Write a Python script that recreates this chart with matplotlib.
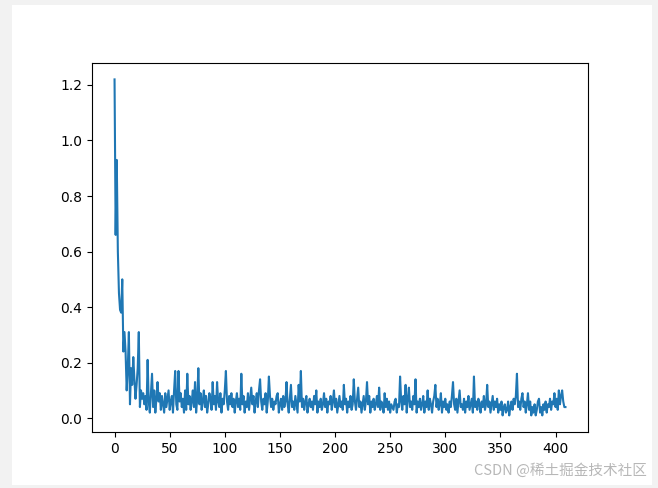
import matplotlib
matplotlib.use("Agg")
import matplotlib.pyplot as plt
from matplotlib.patches import Rectangle

# loss values, one per step (410 steps)
loss = [
    1.22, 0.66, 0.93, 0.60, 0.45, 0.39, 0.38, 0.50, 0.24, 0.31,
    0.24, 0.10, 0.18, 0.31, 0.05, 0.18, 0.12, 0.22, 0.14, 0.07,
    0.12, 0.18, 0.31, 0.04, 0.10, 0.07, 0.09, 0.05, 0.08, 0.03,
    0.21, 0.06, 0.02, 0.09, 0.16, 0.04, 0.10, 0.02, 0.07, 0.13,
    0.06, 0.09, 0.03, 0.08, 0.05, 0.02, 0.09, 0.04, 0.07, 0.10,
    0.03, 0.06, 0.08, 0.02, 0.10, 0.17, 0.05, 0.03, 0.17, 0.06,
    0.09, 0.04, 0.07, 0.02, 0.10, 0.03, 0.16, 0.05, 0.08, 0.03,
    0.06, 0.10, 0.04, 0.13, 0.02, 0.07, 0.18, 0.05, 0.09, 0.03,
    0.06, 0.10, 0.04, 0.08, 0.02, 0.05, 0.09, 0.07, 0.03, 0.13,
    0.05, 0.08, 0.03, 0.13, 0.06, 0.04, 0.09, 0.02, 0.07, 0.05,
    0.10, 0.17, 0.06, 0.03, 0.08, 0.05, 0.09, 0.04, 0.07, 0.02,
    0.06, 0.09, 0.04, 0.07, 0.03, 0.16, 0.05, 0.08, 0.02, 0.06,
    0.04, 0.09, 0.03, 0.07, 0.11, 0.05, 0.08, 0.02, 0.06, 0.09,
    0.04, 0.10, 0.14, 0.06, 0.03, 0.07, 0.05, 0.09, 0.02, 0.06,
    0.15, 0.08, 0.04, 0.07, 0.03, 0.06, 0.05, 0.08, 0.09, 0.02,
    0.05, 0.07, 0.03, 0.08, 0.04, 0.06, 0.13, 0.05, 0.02, 0.07,
    0.12, 0.04, 0.06, 0.03, 0.08, 0.05, 0.02, 0.12, 0.06, 0.17,
    0.04, 0.07, 0.03, 0.06, 0.08, 0.02, 0.05, 0.07, 0.04, 0.06,
    0.03, 0.08, 0.05, 0.10, 0.02, 0.06, 0.04, 0.07, 0.03, 0.05,
    0.09, 0.04, 0.07, 0.02, 0.06, 0.05, 0.08, 0.03, 0.06, 0.10,
    0.04, 0.07, 0.02, 0.05, 0.08, 0.04, 0.06, 0.03, 0.12, 0.05,
    0.07, 0.02, 0.06, 0.04, 0.08, 0.03, 0.05, 0.14, 0.06, 0.03,
    0.07, 0.11, 0.04, 0.06, 0.02, 0.05, 0.08, 0.03, 0.06, 0.13,
    0.05, 0.08, 0.02, 0.06, 0.04, 0.07, 0.03, 0.05, 0.08, 0.04,
    0.11, 0.03, 0.06, 0.05, 0.02, 0.09, 0.04, 0.07, 0.03, 0.06,
    0.02, 0.05, 0.04, 0.03, 0.06, 0.07, 0.02, 0.05, 0.04, 0.15,
    0.06, 0.03, 0.08, 0.05, 0.12, 0.02, 0.07, 0.11, 0.04, 0.06,
    0.03, 0.08, 0.05, 0.14, 0.02, 0.06, 0.04, 0.07, 0.03, 0.05,
    0.08, 0.02, 0.06, 0.04, 0.10, 0.03, 0.07, 0.05, 0.02, 0.06,
    0.08, 0.12, 0.04, 0.07, 0.03, 0.05, 0.09, 0.02, 0.06, 0.04,
    0.07, 0.03, 0.05, 0.02, 0.06, 0.04, 0.08, 0.13, 0.05, 0.03,
    0.07, 0.02, 0.06, 0.10, 0.04, 0.05, 0.03, 0.07, 0.02, 0.06,
    0.04, 0.08, 0.03, 0.05, 0.07, 0.02, 0.15, 0.04, 0.06, 0.03,
    0.07, 0.05, 0.02, 0.06, 0.04, 0.08, 0.03, 0.05, 0.12, 0.04,
    0.06, 0.02, 0.05, 0.08, 0.03, 0.06, 0.04, 0.07, 0.02, 0.05,
    0.03, 0.06, 0.01, 0.04, 0.05, 0.02, 0.03, 0.06, 0.01, 0.04,
    0.06, 0.03, 0.07, 0.05, 0.08, 0.16, 0.04, 0.06, 0.03, 0.07,
    0.09, 0.04, 0.06, 0.02, 0.05, 0.09, 0.03, 0.06, 0.01, 0.04,
    0.02, 0.05, 0.01, 0.03, 0.06, 0.07, 0.02, 0.04, 0.01, 0.05,
    0.03, 0.06, 0.02, 0.05, 0.04, 0.07, 0.03, 0.06, 0.05, 0.09,
    0.04, 0.07, 0.03, 0.10, 0.05, 0.08, 0.10, 0.06, 0.04, 0.04,
]

W, H = 658, 488
fig = plt.figure(figsize=(W / 100, H / 100), dpi=100, facecolor='#f2f2f2')
# white page of the original 640x480 figure, drawn under the axes
fig.patches.append(Rectangle((12 / W, 3 / H), 640 / W, 480 / H,
                             transform=fig.transFigure, facecolor='white',
                             edgecolor='none', zorder=-10))

ax = fig.add_axes([92 / W, (3 + 52.8) / H, 496 / W, 369.6 / H])
ax.set_zorder(1)
ax.plot(loss)

# watermark
fig.text(474 / W, 13 / H, 'CSDN @稀土掘金技术社区', fontsize=10.5, color='#b0b0b0',
         family=['Noto Sans CJK SC', 'DejaVu Sans'], alpha=0.9, zorder=2)

fig.savefig('out.png', dpi=100, facecolor=fig.get_facecolor())
